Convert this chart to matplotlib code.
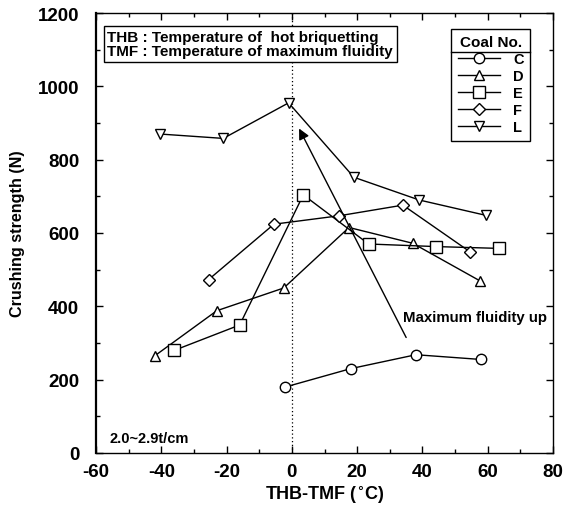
import matplotlib
matplotlib.use('Agg')
import matplotlib.pyplot as plt
from matplotlib.ticker import MultipleLocator

plt.rcParams['font.family'] = ['Liberation Sans', 'DejaVu Sans']
plt.rcParams['font.weight'] = 'bold'
plt.rcParams['axes.unicode_minus'] = False

# data
c_x = [-2, 18, 38, 58]
c_y = [180, 230, 268, 255]
d_x = [-42, -23, -2.5, 17.5, 37, 57.5]
d_y = [265, 388, 450, 615, 572, 470]
e_x = [-36, -16, 3.5, 23.5, 44, 63.5]
e_y = [280, 349, 704, 570, 563, 558]
f_x = [-25.5, -5.5, 14.5, 34, 54.5]
f_y = [473, 624, 647, 676, 549]
l_x = [-40.5, -21, -1, 19, 39, 59.5]
l_y = [870, 858, 955, 752, 690, 648]

series = [('C', c_x, c_y, 'o', 7.5),
          ('D', d_x, d_y, '^', 7.5),
          ('E', e_x, e_y, 's', 8),
          ('F', f_x, f_y, 'D', 6),
          ('L', l_x, l_y, 'v', 7.5)]

fig = plt.figure(figsize=(5.69, 5.06), dpi=100)
ax = fig.add_axes([0.1687, 0.1028, 0.8033, 0.8695])

ax.axvline(0, color='black', linestyle=(0, (1, 2)), linewidth=0.9, zorder=1)

for name, xs, ys, mk, ms in series:
    ax.plot(xs, ys, color='black', linewidth=1.0, marker=mk, markersize=ms,
            markerfacecolor='white', markeredgecolor='black',
            markeredgewidth=1.0, label=name, zorder=3)

# arrow "Maximum fluidity up"
ax.annotate('', xy=(2.2, 885), xytext=(35, 315),
            arrowprops=dict(arrowstyle='-|>', color='black', lw=1.0,
                            mutation_scale=16, shrinkA=0, shrinkB=0))
ax.text(34, 371, 'Maximum fluidity up', fontsize=10.8, fontweight='bold',
        ha='left', va='center')

ax.text(-56, 42, '2.0~2.9t/cm', fontsize=10.5, fontweight='bold',
        ha='left', va='center')

ax.text(-56.5, 1115, 'THB : Temperature of  hot briquetting\n'
                     'TMF : Temperature of maximum fluidity',
        fontsize=11, fontweight='bold', ha='left', va='center',
        linespacing=1.0, zorder=5,
        bbox=dict(boxstyle='square,pad=0.25', facecolor='white',
                  edgecolor='black', linewidth=1.0))

ax.set_xlim(-60, 80)
ax.set_ylim(0, 1200)
ax.xaxis.set_major_locator(MultipleLocator(20))
ax.xaxis.set_minor_locator(MultipleLocator(10))
ax.yaxis.set_major_locator(MultipleLocator(200))
ax.yaxis.set_minor_locator(MultipleLocator(100))
ax.tick_params(which='both', direction='in', top=True, right=True,
               labelsize=13.5, width=1.0)
ax.tick_params(which='major', length=5)
ax.tick_params(which='minor', length=3)
ax.tick_params(axis='x', which='major', pad=7)
ax.tick_params(axis='y', which='major', pad=12)
for lab in ax.get_xticklabels() + ax.get_yticklabels():
    lab.set_fontweight('bold')
for sp in ax.spines.values():
    sp.set_linewidth(1.0)
ax.spines['left'].set_linewidth(1.6)

ax.set_xlabel('THB-TMF ($^{\\circ}$C)', fontsize=13, fontweight='bold', labelpad=3)
ax.set_ylabel('Crushing strength (N)', fontsize=11.6, fontweight='bold', labelpad=9)

leg = ax.legend(title='Coal No.', loc='upper right', bbox_to_anchor=(0.95, 0.964),
                borderaxespad=0,
                fontsize=10.5, title_fontproperties={'weight': 'bold', 'size': 11},
                markerfirst=True, handlelength=2.9, handletextpad=0.9,
                labelspacing=0.2, borderpad=0.45, fancybox=False,
                edgecolor='black', framealpha=1)
leg.get_frame().set_linewidth(1.0)
for t in leg.get_texts():
    t.set_fontweight('bold')
leg.set_zorder(6)

# separator line under the legend title
fig.canvas.draw()
frame_bb = leg.get_frame().get_window_extent()
title_bb = leg.get_title().get_window_extent()
inv = fig.transFigure.inverted()
(x0, y0), (x1, _) = inv.transform([(frame_bb.x0, title_bb.y0 - 3), (frame_bb.x1, 0)])
fig.add_artist(plt.Line2D([x0, x1], [y0, y0], color='black', linewidth=1.0,
                          transform=fig.transFigure, zorder=7))

fig.savefig('out.png', dpi=100)
plt.close(fig)
